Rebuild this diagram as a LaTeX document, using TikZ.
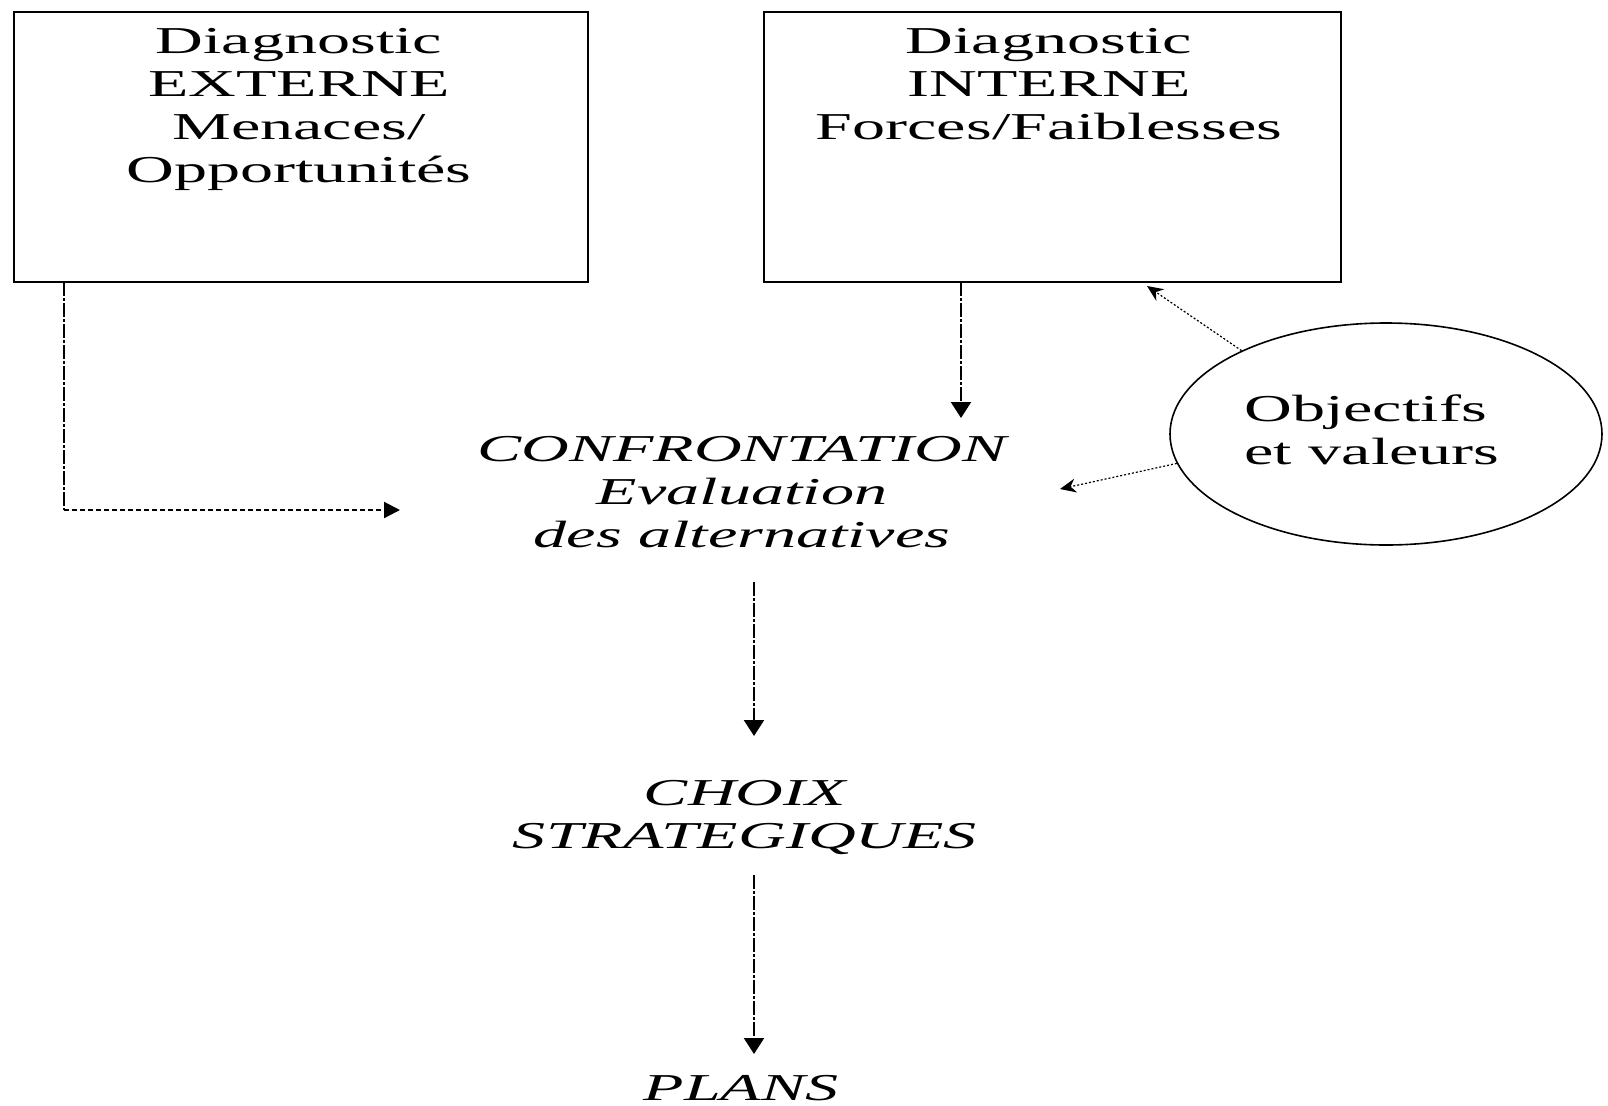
\documentclass[tikz,border=0pt]{standalone}
\usepackage{fontspec}
\setmainfont{Liberation Serif}[FakeStretch=1.74]
\usetikzlibrary{arrows.meta,shapes.geometric}
\begin{document}
\begin{tikzpicture}[x=0.5pt,y=-0.5pt,
  box/.style={draw,line width=1.2pt,rectangle,inner sep=0},
  txt/.style={inner sep=0,align=center,font=\fontsize{19}{21.5}\selectfont},
  itxt/.style={inner sep=0,align=center,font=\fontsize{19}{21.3}\selectfont\itshape},
  flowline/.style={line width=1.1pt,dash pattern={on 7pt off 1pt on 1.5pt off 1pt}},
  flow/.style={flowline,-{Triangle[length=8pt,width=10pt]}},
  dotline/.style={line width=1.1pt,dash pattern={on 2.5pt off 1.5pt},-{Triangle[length=8pt,width=8pt]}},
  light/.style={line width=0.6pt,dash pattern={on 1pt off 1pt},-{Stealth[length=8pt,width=7pt]}}
]
\useasboundingbox (0,0) rectangle (1608,1105);

% diagnostic boxes (text nodes anchored on the baseline of their last line)
\node[box,minimum width=287pt,minimum height=135pt] (ext) at (301,147) {};
\node[txt,anchor=base] (extT) at (299,182) {Diagnostic\\EXTERNE\\Menaces/\\Opportunités};

\node[box,minimum width=288.5pt,minimum height=135pt] (int) at (1052.5,147) {};
\node[txt,anchor=base] (intT) at (1049,139) {Diagnostic\\INTERNE\\Forces/Faiblesses};

% objectives
\node[draw,ellipse,line width=0.8pt,minimum width=216pt,minimum height=111pt,inner sep=0] (obj) at (1386,434) {};
\node[txt,align=left,anchor=base west] (objT) at (1244,464) {Objectifs\\et valeurs};

% central column
\node[itxt,anchor=base] (conf) at (742,547) {CONFRONTATION\\Evaluation\\des alternatives};
\node[itxt,anchor=base] (choix) at (745,848) {CHOIX\\STRATEGIQUES};
\node[itxt,anchor=base] (plans) at (741,1100) {PLANS};

% connectors
\coordinate (extOut) at (64,282);
\coordinate (corner) at (64,510);
\coordinate (confIn) at (400,510);
\draw[flowline] (extOut) -- (corner);
\draw[dotline] (corner) -- (confIn);

\coordinate (intOut) at (961,282);
\coordinate (confTop) at (961,418);
\draw[flow] (intOut) -- (confTop);

\coordinate (intIn) at (1147,286);
\coordinate (confRight) at (1060,489);
\draw[light] (obj.150) -- (intIn);
\draw[light] (obj.188) -- (confRight);

\coordinate (confOut) at (754,582);
\coordinate (choixIn) at (754,736);
\draw[flow] (confOut) -- (choixIn);

\coordinate (choixOut) at (754,875);
\coordinate (plansIn) at (754,1054);
\draw[flow] (choixOut) -- (plansIn);
\end{tikzpicture}
\end{document}
